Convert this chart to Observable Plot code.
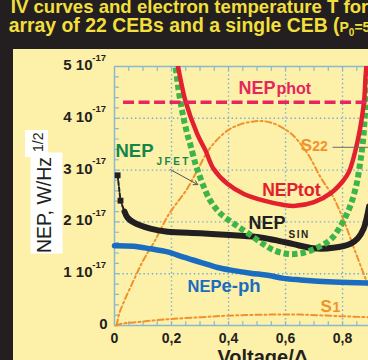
<!DOCTYPE html>
<html><head><meta charset="utf-8">
<script src="https://cdn.jsdelivr.net/npm/d3@7"></script>
<script src="https://cdn.jsdelivr.net/npm/@observablehq/plot@0.6"></script>
<style>
html,body{margin:0;padding:0;}
body{width:368px;height:360px;overflow:hidden;position:relative;background:#231f20;font-family:"Liberation Sans",Arial,Helvetica,sans-serif;}
.title{position:absolute;white-space:nowrap;color:#f2df3c;font-weight:bold;font-size:19.4px;line-height:19px;}
#panel{position:absolute;left:13px;top:49px;width:355px;height:311px;background:#fdf0a9;}
#chart{position:absolute;left:13px;top:49px;}
.ylab{position:absolute;background:#fff;color:#231f20;white-space:nowrap;box-sizing:border-box;transform:rotate(-90deg);overflow:visible;}
</style></head><body>
<div class="title" style="left:10.8px;top:-3.0px;font-size:18.6px">IV curves and electron temperature T for</div>
<div class="title" style="left:8.7px;top:15.8px">array of 22 CEBs and a single CEB (<span style="font-size:14px">P<span style="font-size:10px;position:relative;top:4px">0</span>=5 p</span></div>
<div id="panel"></div>
<div id="chart"></div>
<div class="ylab" id="ylab2" style="left:23px;top:132px;width:27px;height:23px;font-size:14px;line-height:26px;padding-left:5px">1/2</div>
<div class="ylab" id="ylab1" style="left:-4.5px;top:186.5px;width:101px;height:32px;font-size:19.5px;line-height:26px;padding-left:0.5px">NEP, W/Hz</div>
<script>
// ---- axes / ticks ----
const xTicks = [0, 0.2, 0.4, 0.6, 0.8];
const xTickLabels = ["0", "0,2", "0,4", "0,6", "0,8"];
const yTicks = [0, 1, 2, 3, 4, 5];
const yTickLabels = ["0", "1 10", "2 10", "3 10", "4 10", "5 10"];
const yTickExp = "-17";
const xMinor = [0.05,0.1,0.15,0.2,0.25,0.3,0.35,0.4,0.45,0.5,0.55,0.6,0.65,0.7,0.75,0.8,0.85];
const yMinor = [0.2,0.4,0.6,0.8,1,1.2,1.4,1.6,1.8,2,2.2,2.4,2.6,2.8,3,3.2,3.4,3.6,3.8,4,4.2,4.4,4.6,4.8];
const xTitle = "Voltage/Δ";
const labelTexts = ["NEP", "phot", "tot", "JFET", "SIN", "e-ph", "S", "22", "1"];

// ---- series (x = V/Δ, y = NEP in 1e-17 W/Hz^1/2) ----
const nepPhot = [[0.03, 4.31], [0.891, 4.31]];
const nepTot = [[0.212,5.3],[0.222,5.02],[0.25,4.31],[0.29,3.70],[0.319,3.38],[0.348,3.02],[0.395,2.74],[0.454,2.54],[0.524,2.41],[0.59,2.33],[0.635,2.31],[0.70,2.38],[0.76,2.56],[0.80,2.78],[0.822,2.96],[0.852,3.54],[0.875,4.31],[0.881,4.83],[0.89,5.4]];
const nepJfet = [[0.205,5.3],[0.214,5.0],[0.225,4.54],[0.239,4.09],[0.255,3.70],[0.267,3.47],[0.284,3.12],[0.296,2.93],[0.31,2.72],[0.335,2.42],[0.37,2.17],[0.42,1.96],[0.466,1.79],[0.52,1.58],[0.56,1.45],[0.61,1.38],[0.66,1.40],[0.71,1.50],[0.758,1.66],[0.793,1.92],[0.825,2.28],[0.848,2.70],[0.862,3.15],[0.871,3.53],[0.881,4.25],[0.891,4.92]];
const nepSinStart = [[0.011,2.90],[0.021,2.41],[0.035,2.20]];
const nepSin = [[0.035,2.20],[0.046,2.08],[0.067,1.99],[0.126,1.87],[0.186,1.81],[0.302,1.78],[0.418,1.74],[0.512,1.70],[0.58,1.63],[0.628,1.57],[0.698,1.49],[0.768,1.50],[0.828,1.58],[0.853,1.68],[0.874,1.87],[0.888,2.16],[0.893,2.3]];
const nepEph = [[0,1.54],[0.067,1.53],[0.126,1.48],[0.186,1.42],[0.242,1.32],[0.302,1.22],[0.361,1.12],[0.418,1.06],[0.477,1.01],[0.537,0.97],[0.593,0.91],[0.653,0.88],[0.768,0.84],[0.891,0.82]];
const s22 = [[0.008,0],[0.015,0.2],[0.03,0.42],[0.067,0.87],[0.10,1.25],[0.14,1.62],[0.19,2.14],[0.255,2.64],[0.29,2.99],[0.337,3.44],[0.407,3.80],[0.488,3.94],[0.547,3.92],[0.618,3.71],[0.677,3.32],[0.723,2.86],[0.768,2.47],[0.804,2.03],[0.839,1.51],[0.874,1.00],[0.891,0.77]];
const s1 = [[0.005,0],[0.021,0.03],[0.067,0.06],[0.186,0.12],[0.302,0.16],[0.396,0.19],[0.537,0.21],[0.653,0.21],[0.793,0.18],[0.891,0.16]];

const AX = "#8ab8cc", GRID = "#74acd2", DARK = "#231f20";
const PINK = "#e5265f", RED = "#e3202e", GREEN = "#3db54a", DGREEN = "#13874a", BLUE = "#1a6cc0", ORANGE = "#f0922c";
const F = "'Liberation Sans', Arial, Helvetica, sans-serif";
const X = d => d[0], Y = d => d[1];
const tickShape = {draw(ctx, l) { ctx.moveTo(0, 0); ctx.lineTo(0, -l); }};

function label(str, x, y, fill, fontSize, extra = {}) {
  return Plot.text([str], {x, y, text: d => d, fill, fontSize, fontWeight: "bold",
    textAnchor: "start", lineAnchor: "bottom", ...extra});
}

const chart = Plot.plot({
  width: 355, height: 311,
  marginLeft: 101, marginRight: 0, marginTop: 17, marginBottom: 35,
  style: {background: "transparent", fontFamily: F, overflow: "visible"},
  x: {domain: [0, 0.891]},
  y: {domain: [0, 5]},
  marks: [
    Plot.gridX(xTicks.slice(1), {stroke: GRID, strokeOpacity: 1, strokeWidth: 1.4, strokeDasharray: "1.4,2.8"}),
    Plot.gridY(yTicks.slice(1, 5), {stroke: GRID, strokeOpacity: 1, strokeWidth: 1.4, strokeDasharray: "1.4,2.8"}),
    Plot.ruleX([0], {stroke: AX, strokeWidth: 1.5}),
    Plot.ruleY([0, 5], {stroke: AX, strokeWidth: 1.5}),
    Plot.vector(xMinor, {x: d => d, y: 0, length: 4, rotate: 0, anchor: "start", shape: tickShape, stroke: AX, strokeWidth: 1.2}),
    Plot.vector(xMinor, {x: d => d, y: 5, length: 4, rotate: 180, anchor: "start", shape: tickShape, stroke: AX, strokeWidth: 1.2}),
    Plot.vector(yMinor, {x: 0, y: d => d, length: 4, rotate: 90, anchor: "start", shape: tickShape, stroke: AX, strokeWidth: 1.2}),

    Plot.line(s1, {x: X, y: Y, stroke: ORANGE, strokeWidth: 2, strokeDasharray: "6,3,2,3", curve: "catmull-rom"}),
    Plot.line(s22, {x: X, y: Y, stroke: ORANGE, strokeWidth: 2, strokeDasharray: "6,3,2,3", curve: "catmull-rom", clip: true}),
    Plot.line(nepEph, {x: X, y: Y, stroke: BLUE, strokeWidth: 5.5, curve: "catmull-rom"}),
    Plot.line(nepSinStart, {x: X, y: Y, stroke: DARK, strokeWidth: 2, strokeDasharray: "4,2"}),
    Plot.dot(nepSinStart.slice(0, 2), {x: X, y: Y, symbol: "square", r: 3.3, fill: DARK}),
    Plot.line(nepSin, {x: X, y: Y, stroke: DARK, strokeWidth: 6, curve: "catmull-rom"}),
    Plot.line(nepJfet, {x: X, y: Y, stroke: GREEN, strokeWidth: 6, strokeDasharray: "5.5,3", strokeLinecap: "butt", curve: "catmull-rom", clip: true}),
    Plot.line(nepTot, {x: X, y: Y, stroke: RED, strokeWidth: 4.5, curve: "catmull-rom", clip: true}),
    Plot.line(nepPhot, {x: X, y: Y, stroke: PINK, strokeWidth: 3.5, strokeDasharray: "11,4.5", strokeLinecap: "butt"}),

    Plot.link([0], {x1: 0.765, y1: 3.44, x2: 0.891, y2: 3.44, stroke: "#6b6b6b", strokeWidth: 1}),
    Plot.arrow([0], {x1: 0.196, y1: 3.01, x2: 0.292, y2: 2.72, stroke: "#555", strokeWidth: 1, headLength: 7}),

    label(labelTexts[0], 0.435, 4.47, PINK, 18),
    label(labelTexts[1], 0.435, 4.47, PINK, 16, {dx: 38}),
    label(labelTexts[0], 0.518, 2.50, RED, 17.5),
    label(labelTexts[2], 0.518, 2.50, RED, 18, {dx: 35.5}),
    label(labelTexts[0], 0.0035, 3.26, DGREEN, 18.5),
    label(labelTexts[3], 0.0035, 3.26, DGREEN, 10, {dx: 41, dy: 8.5}),
    label(labelTexts[0], 0.470, 1.867, DARK, 18),
    label(labelTexts[4], 0.470, 1.867, DARK, 10, {dx: 40, dy: 9.7}),
    label(labelTexts[0], 0.256, 0.643, BLUE, 16.5),
    label(labelTexts[5], 0.256, 0.643, BLUE, 18.5, {dx: 34}),
    label(labelTexts[6], 0.653, 3.378, ORANGE, 17),
    label(labelTexts[7], 0.653, 3.378, ORANGE, 14, {dx: 11.5}),
    label(labelTexts[6], 0.723, 0.257, ORANGE, 17),
    label(labelTexts[8], 0.723, 0.257, ORANGE, 14, {dx: 12}),

    Plot.axisX(xTicks, {anchor: "bottom", tickSize: 0, tickPadding: 7.5, tickFormat: d => xTickLabels[xTicks.indexOf(d)], fontSize: 14, fontWeight: "bold", color: DARK, label: null}),
    Plot.axisY(yTicks.slice(1), {anchor: "left", tickSize: 0, tickPadding: 22, tickFormat: d => yTickLabels[yTicks.indexOf(d)], fontSize: 15, fontWeight: "bold", color: DARK, dy: -1.3, label: null}),
    Plot.axisY(yTicks.slice(0, 1), {anchor: "left", tickSize: 0, tickPadding: 7, tickFormat: d => yTickLabels[yTicks.indexOf(d)], fontSize: 15, fontWeight: "bold", color: DARK, dy: -1.3, label: null}),
    Plot.text(yTicks.slice(1), {y: d => d, frameAnchor: "left", text: () => yTickExp, textAnchor: "end", lineAnchor: "bottom", dx: -8.5, dy: -6, fontSize: 9.5, fontWeight: "bold", fill: DARK}),
    Plot.text([xTitle], {x: 0.52, frameAnchor: "bottom", text: d => d, lineAnchor: "bottom", dy: 38, fontSize: 20, fontWeight: "bold", fill: DARK})
  ]
});
document.getElementById("chart").appendChild(chart);
d3.select(chart).selectAll("text").filter(function() { return this.textContent === "JFET"; }).attr("letter-spacing", 2.5);
d3.select(chart).selectAll("text").filter(function() { return this.textContent === "SIN"; }).attr("letter-spacing", 1.5);
</script>
</body></html>
